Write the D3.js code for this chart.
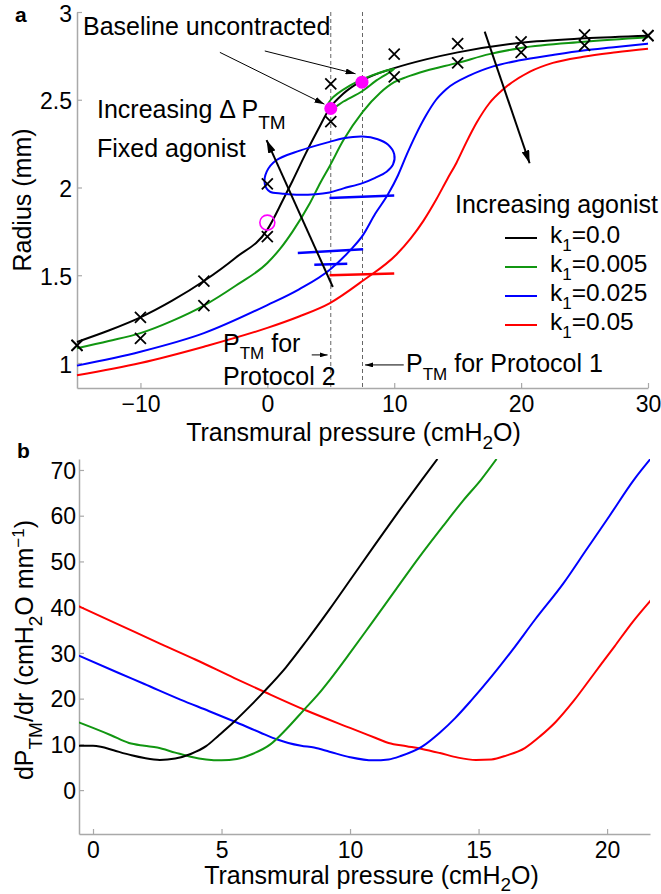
<!DOCTYPE html>
<html><head><meta charset="utf-8">
<script src="https://cdn.jsdelivr.net/npm/d3@7"></script>
<style>
body{margin:0;background:#fff}
svg{display:block}
text{font-family:"Liberation Sans",Arial,Helvetica,sans-serif}
</style>
</head><body>
<svg id="c" width="661" height="894"></svg>
<script>
// ---------------- Panel a data (transmural pressure cmH2O -> radius mm) ----------------
const pMarkers = [-15, -10, -5, 0, 5, 10, 15, 20, 25, 30];
const rMarkersA = [1.10, 1.26, 1.467, 2.02, 2.59, 2.76, 2.82, 2.83, 2.87, 2.865];
const rMarkersB = [1.10, 1.14, 1.327, 1.72, 2.375, 2.63, 2.71, 2.77, 2.81, 2.865];

const pA_k0 = [-15,-12.5,-10,-7.5,-5,-2.5,0,1.24,2,3,4,4.9,6,7.5,10,12.5,15,20,25,30];
const rA_k0 = [1.12,1.185,1.26,1.355,1.467,1.60,1.76,1.93,2.04,2.19,2.33,2.45,2.535,2.61,2.68,2.73,2.77,2.825,2.85,2.865];

const pA_k005 = [-15,-12.5,-10,-7.5,-5,-2.5,0,1,2,3.35,4.2,4.9,6,7.5,8.9,10,11,12.5,15,17.5,20,25,30];
const rA_k005 = [1.084,1.125,1.17,1.24,1.327,1.44,1.57,1.65,1.75,1.91,2.03,2.12,2.27,2.43,2.54,2.60,2.63,2.665,2.71,2.76,2.795,2.83,2.856];

const pA_k025 = [-15,-10,-5,0,2.5,4.9,6.5,7.55,8.5,9.5,10.3,11,11.7,12.5,13.3,14.1,16,17.8,19.9,22.5,24.9,27.5,30];
const rA_k025 = [0.985,1.064,1.17,1.33,1.42,1.53,1.64,1.73,1.85,1.96,2.07,2.19,2.30,2.41,2.50,2.56,2.64,2.69,2.725,2.755,2.78,2.80,2.82];

const pA_k05 = [-15,-10,-5,0,2.5,4.9,7.55,10.2,11.3,12.3,13.3,14.2,14.9,15.7,16.5,17.5,18.6,20.7,22.5,24.9,27.5,30];
const rA_k05 = [0.93,1.0,1.093,1.20,1.265,1.34,1.47,1.62,1.71,1.81,1.93,2.05,2.14,2.26,2.37,2.48,2.56,2.66,2.71,2.745,2.77,2.79];

// loops (fixed agonist, increasing dP_TM)
const pLoopBlue = [0.2,-0.2,-0.05,0.7,2.56,4.9,6.0,7.5,8.7,9.5,10.0,9.9,9.4,8.5,7.5,6.0,4.9,2.56,1.2];
const rLoopBlue = [1.976,2.02,2.09,2.155,2.21,2.26,2.28,2.29,2.275,2.245,2.19,2.13,2.09,2.055,2.025,1.995,1.972,1.958,1.965];
const pLoopGreen = [4.7,5.0,6.5,8.3,10.0,8.6,7.5,6.0,5.0];
const rLoopGreen = [2.45,2.50,2.58,2.64,2.675,2.61,2.55,2.49,2.445];

// short horizontal segments
const pSegBlue = [[4.9, 10.0], [2.4, 7.55], [3.7, 6.3]];
const rSegBlue = [[1.94, 1.955], [1.627, 1.648], [1.56, 1.565]];
const pSegRed = [4.9, 10.0];
const rSegRed = [1.50, 1.51];

// baseline points
const pBaseline = [5, 7.46];
const rBaseline = [2.45, 2.60];
const pOpen = [0];
const rOpen = [1.80];

const protocolP = [5, 7.5];

// ---------------- Panel b data (pressure -> dP_TM/dr) ----------------
const pB_k0 = [-0.55,0,0.3,0.8,1.5,2,2.6,3.2,3.8,4.4,4.9,5.5,6.1,6.7,7.5,8.3,9.2,10.1,11,11.9,12.8,13.4];
const dB_k0 = [9.7,9.7,9.5,8.7,7.6,7.0,6.6,6.9,7.9,9.6,12.0,15.0,18.3,21.8,26.8,32.6,39.5,46.7,53.9,61.0,67.9,72.4];

const pB_k005 = [-0.55,0,0.7,1.4,2,2.5,3.2,3.8,4.4,5,5.6,6.2,6.9,7.5,8.2,8.8,9.2,10,10.8,11.8,12.7,13.6,14.4,15.1,15.7];
const dB_k005 = [14.8,13.6,12.0,10.3,9.7,9.3,8.2,7.3,6.7,6.5,6.8,7.9,10.0,13.2,17.5,21.2,24.0,30.0,36.2,44.0,51.0,57.6,63.3,67.9,72.4];

const pB_k025 = [-0.55,1,2,3.4,4.5,5.5,6.5,7.2,7.6,8.1,8.6,9.2,10,10.9,11.5,12,12.8,13.5,14.1,14.7,15.5,16.3,17.2,18.3,19.2,20.1,21.05,21.7];
const dB_k025 = [29.4,25.6,23.2,19.8,17.3,15.0,12.6,11.0,10.3,9.7,9.3,8.4,7.2,6.5,6.7,7.5,9.5,12.6,15.8,19.5,24.8,30.5,37.3,45.2,52.6,60.0,67.9,72.5];

const pB_k05 = [-0.55,1,2.5,4,5.5,6.7,8.3,10,11,11.5,12.2,12.8,13.5,14.2,14.9,15.5,16.1,16.8,17.4,18,18.7,19.5,20.3,21,21.7];
const dB_k05 = [40.2,36.2,32.3,28.5,24.5,21.4,17.4,13.6,11.4,10.3,9.6,9.0,8.1,7.1,6.6,6.7,7.6,9.2,11.8,14.9,19.5,25.5,31.5,36.8,41.5];

const seriesNames = ["0.0", "0.005", "0.025", "0.05"];
const seriesColors = ["#000000", "#119611", "#0000ff", "#ff0000"];

const ticksAx = [-10, 0, 10, 20, 30];
const ticksAy = [1, 1.5, 2, 2.5, 3];
const ticksBx = [0, 5, 10, 15, 20];
const ticksBy = [0, 10, 20, 30, 40, 50, 60, 70];

// ---------------- drawing ----------------
const svg = d3.select("#c");
const FS = 25;      // annotation / title font
const AX = "#a9a9a9";

const xA = d3.scaleLinear([-15, 30], [77, 648]);
const yA = d3.scaleLinear([0.8575, 3], [388, 12]);
const xB = d3.scaleLinear([-0.545, 21.67], [79, 650]);
const yB = d3.scaleLinear([-9.6, 72.4], [834, 459]);

const defs = svg.append("defs");
function arrowMarker(id, len, wid, color) {
  defs.append("marker").attr("id", id).attr("markerUnits", "userSpaceOnUse")
    .attr("viewBox", `0 0 ${len} ${wid}`).attr("refX", len).attr("refY", wid / 2)
    .attr("markerWidth", len).attr("markerHeight", wid).attr("orient", "auto")
    .append("path").attr("d", `M0,0L${len},${wid / 2}L0,${wid}Z`).attr("fill", color);
}
arrowMarker("ahBig", 13, 8, "#000");
arrowMarker("ahThin", 10, 6, "#000");
arrowMarker("ahTiny", 8, 5, "#000");
defs.append("clipPath").attr("id", "clipB").append("rect")
  .attr("x", 79).attr("y", 459).attr("width", 571).attr("height", 375);

function styleAxis(g, fs, dy) {
  g.attr("font-family", null).attr("font-size", null);
  g.select(".domain").attr("stroke", AX).attr("stroke-width", 1.5);
  g.selectAll(".tick line").attr("stroke", AX).attr("stroke-width", 1.2);
  const t = g.selectAll(".tick text").attr("fill", "#000").style("font-size", fs + "px");
  if (dy) t.attr("dy", dy);
}

// ---- panel a axes ----
svg.append("g").attr("transform", "translate(0,388)")
  .call(d3.axisBottom(xA).tickValues(ticksAx).tickFormat(d3.format("d"))
    .tickSizeInner(-5).tickSizeOuter(0).tickPadding(8)).call(g => styleAxis(g, 23));
svg.append("g").attr("transform", "translate(77,0)")
  .call(d3.axisLeft(yA).tickValues(ticksAy).tickFormat(d => String(d))
    .tickSizeInner(-5).tickSizeOuter(0).tickPadding(5)).call(g => styleAxis(g, 23, "0.4em"));

// dashed protocol lines
svg.append("g").selectAll("line").data(protocolP).join("line")
  .attr("x1", d => xA(d)).attr("x2", d => xA(d))
  .attr("y1", yA(3)).attr("y2", yA(0.8575))
  .attr("stroke", "#666").attr("stroke-width", 1).attr("stroke-dasharray", "4,3");

const lineA = d3.line().x(d => xA(d[0])).y(d => yA(d[1])).curve(d3.curveMonotoneX);
const zip = (a, b) => a.map((v, i) => [v, b[i]]);
const curvesA = [[pA_k0, rA_k0], [pA_k005, rA_k005], [pA_k025, rA_k025], [pA_k05, rA_k05]];
const gA = svg.append("g");
[3, 2, 1, 0].forEach(i => {
  gA.append("path").attr("d", lineA(zip(curvesA[i][0], curvesA[i][1])))
    .attr("fill", "none").attr("stroke", seriesColors[i]).attr("stroke-width", 2);
});

const loopLine = d3.line().x(d => xA(d[0])).y(d => yA(d[1])).curve(d3.curveCatmullRomClosed.alpha(0.5));
gA.append("path").attr("d", loopLine(zip(pLoopBlue, rLoopBlue)))
  .attr("fill", "none").attr("stroke", seriesColors[2]).attr("stroke-width", 2);
gA.append("path").attr("d", loopLine(zip(pLoopGreen, rLoopGreen)))
  .attr("fill", "none").attr("stroke", seriesColors[1]).attr("stroke-width", 2);

// segments
pSegBlue.forEach((p, i) => {
  gA.append("line").attr("x1", xA(p[0])).attr("x2", xA(p[1]))
    .attr("y1", yA(rSegBlue[i][0])).attr("y2", yA(rSegBlue[i][1]))
    .attr("stroke", seriesColors[2]).attr("stroke-width", 2.5);
});
gA.append("line").attr("x1", xA(pSegRed[0])).attr("x2", xA(pSegRed[1]))
  .attr("y1", yA(rSegRed[0])).attr("y2", yA(rSegRed[1]))
  .attr("stroke", seriesColors[3]).attr("stroke-width", 2.5);

// markers
const crossPath = "M-5.5,-5.5L5.5,5.5M-5.5,5.5L5.5,-5.5";
[rMarkersA, rMarkersB].forEach(rs => {
  gA.append("g").selectAll("path").data(zip(pMarkers, rs)).join("path")
    .attr("d", crossPath).attr("transform", d => `translate(${xA(d[0])},${yA(d[1])})`)
    .attr("stroke", "#000").attr("stroke-width", 1.8).attr("fill", "none");
});
gA.append("g").selectAll("circle").data(zip(pBaseline, rBaseline)).join("circle")
  .attr("cx", d => xA(d[0])).attr("cy", d => yA(d[1])).attr("r", 6.5).attr("fill", "#ff00ff");
gA.append("g").selectAll("circle").data(zip(pOpen, rOpen)).join("circle")
  .attr("cx", d => xA(d[0])).attr("cy", d => yA(d[1])).attr("r", 7.5)
  .attr("fill", "none").attr("stroke", "#ff00ff").attr("stroke-width", 1.6);

// annotation arrows (data coordinates)
const arrowsA = [
  {from: [5.16, 1.433], to: [-0.06, 2.27], w: 2, m: "ahBig"},
  {from: [17.13, 2.888], to: [20.67, 2.138], w: 2, m: "ahBig"},
  {from: [-3.74, 2.77], to: [4.5, 2.475], w: 1, m: "ahThin"},
  {from: [-0.2, 2.778], to: [6.95, 2.648], w: 1, m: "ahThin"},
  {from: [3.5, 1.046], to: [4.75, 1.046], w: 1, m: "ahTiny"},
  {from: [10.75, 0.989], to: [7.7, 0.989], w: 1, m: "ahTiny"}
];
arrowsA.forEach(a => {
  gA.append("line").attr("x1", xA(a.from[0])).attr("y1", yA(a.from[1]))
    .attr("x2", xA(a.to[0])).attr("y2", yA(a.to[1]))
    .attr("stroke", "#000").attr("stroke-width", a.w).attr("marker-end", `url(#${a.m})`);
});

// rich text helper
function rich(x, y, parts, opts = {}) {
  const t = svg.append("text").attr("x", x).attr("y", y).attr("font-size", opts.fs || FS).attr("fill", "#000");
  if (opts.anchor) t.attr("text-anchor", opts.anchor);
  if (opts.rotate) t.attr("transform", `rotate(${opts.rotate},${x},${y})`);
  if (opts.weight) t.attr("font-weight", opts.weight);
  parts.forEach(p => {
    const ts = t.append("tspan").text(p.t);
    if (p.dy) ts.attr("dy", p.dy);
    if (p.fs) ts.attr("font-size", p.fs);
  });
  return t;
}

rich(15, 22, [{t: "a"}], {weight: "bold", fs: 21});
rich(83, 35, [{t: "Baseline uncontracted"}]);
rich(97, 118, [{t: "Increasing \u0394 P"}, {t: "TM", dy: 11, fs: 19}]);
rich(97, 157, [{t: "Fixed agonist"}]);
rich(455, 213, [{t: "Increasing agonist"}]);
rich(223, 352, [{t: "P"}, {t: "TM", dy: 7, fs: 17}, {t: " for", dy: -7}]);
rich(223, 385, [{t: "Protocol 2"}]);
rich(406, 372, [{t: "P"}, {t: "TM", dy: 8, fs: 17}, {t: " for Protocol 1", dy: -8}]);

// legend
seriesNames.forEach((n, i) => {
  const yb = 243 + i * 29;
  svg.append("line").attr("x1", 505).attr("x2", 537).attr("y1", yb - 5).attr("y2", yb - 5)
    .attr("stroke", seriesColors[i]).attr("stroke-width", 2);
  rich(550, yb, [{t: "k"}, {t: "1", dy: 8, fs: 17}, {t: "=" + n, dy: -8}], {fs: 24.5});
});

// axis titles panel a
rich(353.5, 441, [{t: "Transmural pressure (cmH"}, {t: "2", dy: 8, fs: 19}, {t: "O)", dy: -8}], {anchor: "middle"});
rich(31, 200, [{t: "Radius (mm)"}], {anchor: "middle", rotate: -90});

// ---- panel b ----
svg.append("g").attr("transform", "translate(0,834)")
  .call(d3.axisBottom(xB).tickValues(ticksBx).tickFormat(d3.format("d"))
    .tickSizeInner(-5).tickSizeOuter(0).tickPadding(8)).call(g => styleAxis(g, 23));
svg.append("g").attr("transform", "translate(79,0)")
  .call(d3.axisLeft(yB).tickValues(ticksBy).tickFormat(d3.format("d"))
    .tickSizeInner(-5).tickSizeOuter(0).tickPadding(3)).call(g => styleAxis(g, 23, "0.36em"));

const lineB = d3.line().x(d => xB(d[0])).y(d => yB(d[1])).curve(d3.curveMonotoneX);
const curvesB = [[pB_k0, dB_k0], [pB_k005, dB_k005], [pB_k025, dB_k025], [pB_k05, dB_k05]];
const gB = svg.append("g").attr("clip-path", "url(#clipB)");
[3, 2, 1, 0].forEach(i => {
  gB.append("path").attr("d", lineB(zip(curvesB[i][0], curvesB[i][1])))
    .attr("fill", "none").attr("stroke", seriesColors[i]).attr("stroke-width", 2);
});

rich(17, 458, [{t: "b"}], {weight: "bold", fs: 21});
rich(371.5, 884, [{t: "Transmural pressure (cmH"}, {t: "2", dy: 7, fs: 19}, {t: "O)", dy: -7}], {anchor: "middle"});
rich(33, 650, [{t: "dP"}, {t: "TM", dy: 9, fs: 19}, {t: "/dr (cmH", dy: -9}, {t: "2", dy: 9, fs: 19},
  {t: "O mm", dy: -9}, {t: "\u22121", dy: -9, fs: 17}, {t: ")", dy: 9}], {anchor: "middle", rotate: -90});
</script>
</body></html>
